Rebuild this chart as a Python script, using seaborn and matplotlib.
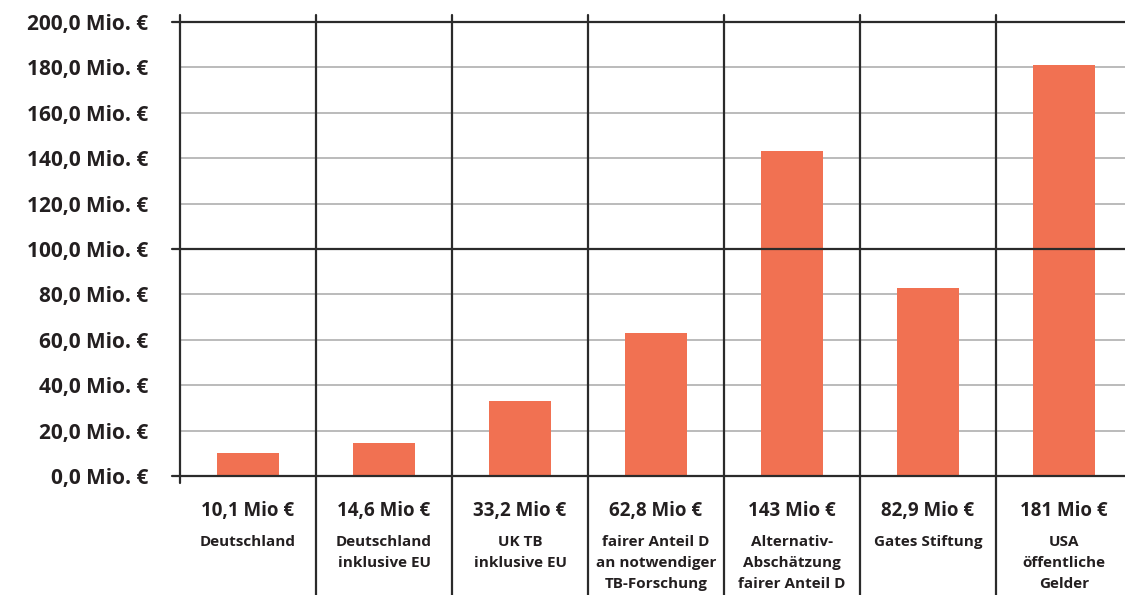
import matplotlib
matplotlib.use("Agg")
import matplotlib.pyplot as plt
import matplotlib.transforms as mtransforms
import seaborn as sns
import pandas as pd

# Research funding figures (million euro)
categories = [
    "Deutschland",
    "Deutschland\ninklusive EU",
    "UK TB\ninklusive EU",
    "fairer Anteil D\nan notwendiger\nTB-Forschung",
    "Alternativ-\nAbschätzung\nfairer Anteil D",
    "Gates Stiftung",
    "USA\nöffentliche\nGelder",
]
values = [10.1, 14.6, 33.2, 62.8, 143, 82.9, 181]
value_labels = ["10,1 Mio €", "14,6 Mio €", "33,2 Mio €", "62,8 Mio €",
                "143 Mio €", "82,9 Mio €", "181 Mio €"]
y_ticks = [0, 20, 40, 60, 80, 100, 120, 140, 160, 180, 200]
y_tick_labels = [f"{t},0 Mio. €" for t in y_ticks]

sns.set_theme(style="white")
plt.rcParams["font.family"] = ["Open Sans", "DejaVu Sans"]

BAR = "#F17152"
TEXT = "#231F20"
DARK = "#2b2b2b"
GRID = "#b5b5b5"

fig = plt.figure(figsize=(11.25, 5.95), dpi=100)
ax = fig.add_axes([180 / 1125, 1 - 476 / 595, 952 / 1125, 454 / 595])

df = pd.DataFrame({"cat": range(len(categories)), "val": values})
sns.barplot(data=df, x="cat", y="val", color=BAR, width=0.45,
            saturation=1, linewidth=0, ax=ax, zorder=3)

ax.set_xlim(-0.5, len(categories) - 0.5)
ax.set_ylim(0, 200)
ax.set_yticks(y_ticks)
ax.set_yticklabels(y_tick_labels, fontsize=15, fontweight="bold", color=TEXT)
ax.set_xticks([])
ax.set_xlabel("")
ax.set_ylabel("")
ax.tick_params(axis="y", length=0, pad=23)
for s in ax.spines.values():
    s.set_visible(False)

# horizontal rules: bold at 0, 100, 200; light grid elsewhere
for t in y_ticks:
    if t in (0, 100, 200):
        ax.plot([-0.5 - 8 / 136, len(categories) - 0.5], [t, t], color=DARK,
                lw=1.6, clip_on=False, zorder=4)
    else:
        ax.axhline(t, color=GRID, lw=1.3, zorder=1)

# vertical separators between categories
ax_tr = mtransforms.blended_transform_factory(ax.transData, ax.transAxes)
ax.plot([-0.5, -0.5], [1.016, -0.016], color=DARK, lw=1.6,
        transform=ax_tr, clip_on=False, zorder=4)
for i in range(len(categories)):
    x = i + 0.5
    ax.plot([x, x], [1.016, -0.27], color=DARK, lw=1.6,
            transform=ax_tr, clip_on=False, zorder=4)

# value and category labels beneath each column
for i, (lab, cat) in enumerate(zip(value_labels, categories)):
    ax.text(i, -0.078, lab, transform=ax_tr, ha="center", va="center",
            fontsize=13.5, fontweight="bold", color=TEXT)
    ax.text(i, -0.129, cat, transform=ax_tr, ha="center", va="top",
            fontsize=11, fontweight="bold", color=TEXT, linespacing=1.65)

fig.savefig("out.png", dpi=100)
